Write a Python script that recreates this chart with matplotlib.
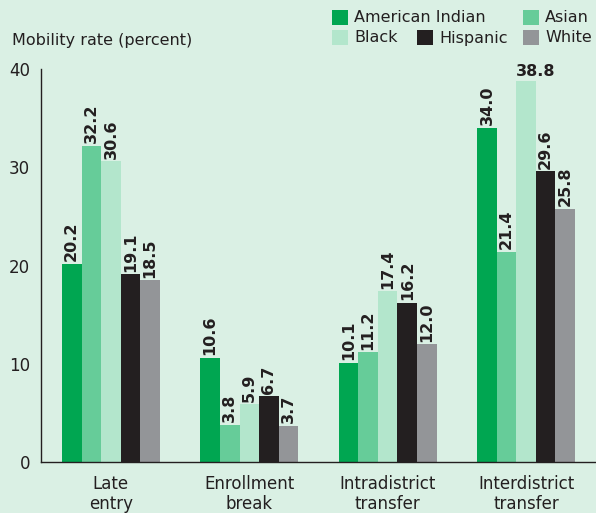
import numpy as np
import matplotlib.pyplot as plt
from matplotlib.patches import Rectangle

# data
categories = ['Late\nentry', 'Enrollment\nbreak', 'Intradistrict\ntransfer', 'Interdistrict\ntransfer']
groups = ['American Indian', 'Asian', 'Black', 'Hispanic', 'White']
american_indian = [20.2, 10.6, 10.1, 34.0]
asian = [32.2, 3.8, 11.2, 21.4]
black = [30.6, 5.9, 17.4, 38.8]
hispanic = [19.1, 6.7, 16.2, 29.6]
white = [18.5, 3.7, 12.0, 25.8]
series = [american_indian, asian, black, hispanic, white]
colors = ['#00a651', '#66cc99', '#b3e6cc', '#231f20', '#939598']
bg = '#daf0e4'

fig = plt.figure(figsize=(5.96, 5.13), dpi=100, facecolor=bg)
ax = fig.add_axes([0.0688, 0.0994, 0.9312, 0.7661], facecolor=bg)

x = np.arange(len(categories))
w = 0.1415
for i, vals in enumerate(series):
    pos = x + (i - 2) * w
    ax.bar(pos, vals, width=w, color=colors[i], linewidth=0)
    for p, v in zip(pos, vals):
        if v > 38:
            # the tallest bar gets a flat label so it stays under the legend
            ax.text(p - w / 2, v + 0.2, '%.1f' % v, ha='left', va='bottom',
                    fontsize=11.5, fontweight='bold', color='#231f20', clip_on=False)
        else:
            ax.text(p, v + 0.25, '%.1f' % v, rotation=90, ha='center', va='bottom',
                    fontsize=11.5, fontweight='bold', color='#231f20', clip_on=False)

ax.set_xlim(-0.505, 3.505)
ax.set_ylim(0, 40)
ax.set_yticks([0, 10, 20, 30, 40])
ax.set_xticks(x)
ax.set_xticklabels(categories, fontsize=12, color='#231f20', linespacing=1.15)
ax.tick_params(axis='y', length=0, labelsize=12, colors='#231f20', pad=8)
ax.tick_params(axis='x', length=0, colors='#231f20', pad=9)
for s in ['top', 'right']:
    ax.spines[s].set_visible(False)
for s in ['left', 'bottom']:
    ax.spines[s].set_color('#231f20')
    ax.spines[s].set_linewidth(1.0)

fig.text(12 / 596, 1 - 40 / 513, 'Mobility rate (percent)', fontsize=11.5,
         color='#231f20', va='center', ha='left')

# legend drawn by hand (two rows, staggered)
leg_pos = [(332, 10, 0), (523, 10, 1), (332, 30, 2), (417, 30, 3), (523, 30, 4)]
for px, py, k in leg_pos:
    fig.patches.append(Rectangle((px / 596, 1 - (py + 15) / 513), 16 / 596, 15 / 513,
                                 transform=fig.transFigure, color=colors[k], lw=0))
    fig.text((px + 22) / 596, 1 - (py + 8) / 513, groups[k], fontsize=11.5,
             color='#231f20', va='center', ha='left')

fig.savefig('out.png', dpi=100, facecolor=bg)
